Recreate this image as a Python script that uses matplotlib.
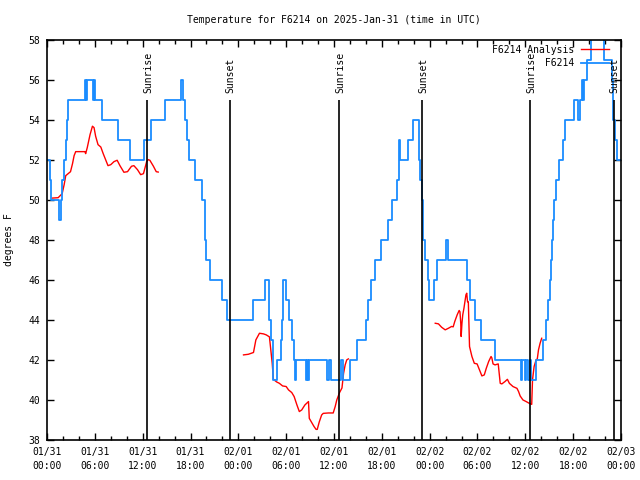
import numpy as np
import matplotlib.pyplot as plt
from matplotlib.ticker import MultipleLocator

plt.rcParams['font.family'] = 'DejaVu Sans Mono'
plt.rcParams['font.size'] = 7

# hours since 2025-01-31 00:00 UTC
obs_t = [0.0, 0.4, 0.55, 1.45, 1.75, 1.9, 2.15, 2.35, 2.5, 2.65,
         4.75, 4.85, 5.0, 5.8, 5.9, 6.0, 6.95, 8.9, 10.4, 12.15,
         13.05, 14.8, 16.8, 17.0, 17.3, 17.5, 17.85, 18.55, 19.4, 19.8,
         19.95, 20.5, 22.0, 22.6, 25.9, 27.35, 27.9, 28.1, 28.3, 28.4,
         28.8, 29.3, 29.45, 29.6, 29.95, 30.4, 30.7, 31.0, 31.1, 31.25,
         32.45, 32.6, 32.7, 32.9, 35.15, 35.4, 35.65, 36.85, 37.1, 37.95,
         38.85, 40.0, 40.3, 40.65, 41.2, 41.85, 42.8, 43.3, 43.9, 44.1,
         44.2, 44.3, 45.3, 45.95, 46.6, 46.8, 47.0, 47.15, 47.45, 47.75,
         47.95, 48.6, 48.9, 50.05, 50.35, 52.65, 53.1, 53.7, 54.4, 56.2,
         59.45, 59.6, 59.9, 60.1, 60.35, 60.6, 60.7, 61.35, 62.2, 62.6,
         62.9, 63.1, 63.25, 63.4, 63.5, 63.65, 63.8, 64.25, 64.7, 65.0,
         66.1, 66.6, 66.9, 67.1, 67.25, 67.4, 67.7, 68.25, 69.9, 70.85,
         70.95, 71.25, 71.45, 72.0]
obs_f = [52, 51, 50, 49, 50, 51, 52, 53, 54, 55,
         56, 55, 56, 55, 56, 55, 54, 53, 52, 53,
         54, 55, 56, 55, 54, 53, 52, 51, 50, 48,
         47, 46, 45, 44, 45, 46, 44, 43, 42, 41,
         42, 43, 44, 46, 45, 44, 43, 42, 41, 42,
         41, 42, 41, 42, 41, 42, 41, 42, 41, 42,
         43, 44, 45, 46, 47, 48, 49, 50, 51, 52,
         53, 52, 53, 54, 52, 51, 50, 48, 47, 46,
         45, 46, 47, 48, 47, 46, 45, 44, 43, 42,
         41, 42, 41, 42, 41, 42, 41, 42, 43, 44,
         45, 46, 47, 48, 49, 50, 51, 52, 53, 54,
         55, 54, 55, 56, 55, 56, 57, 59, 57, 56,
         54, 53, 52, 52]

ana_t = [0.65, 1.4, 1.9, 2.15, 2.35, 2.65, 2.95, 3.2, 3.4, 3.6,
         4.75, 4.85, 5.05, 5.4, 5.7, 5.9, 6.1, 6.4, 6.75, 7.05,
         7.35, 7.65, 8.0, 8.4, 8.8, 9.15, 9.65, 10.1, 10.6, 10.9,
         11.35, 11.75, 12.1, 12.5, 12.7, 12.9, 13.35, 13.7, 13.95, np.nan,
         24.65, 25.25, 25.9, 26.2, 26.65, 27.15, 27.5, 27.9, 28.05, 28.25,
         28.4, 28.8, 29.15, 29.55, 30.0, 30.3, 30.7, 31.0, 31.35, 31.65,
         31.95, 32.35, 32.8, 32.9, 33.2, 33.5, 33.75, 33.9, 34.15, 34.45,
         34.65, 35.3, 35.9, 36.15, 36.35, 36.7, 37.0, 37.2, 37.4, 37.6,
         37.8, np.nan,
         48.7, 49.1, 49.5, 49.95, 50.35, 50.75, 50.95, 51.15, 51.45, 51.7,
         51.8, 51.9, 51.95, 52.05, 52.15, 52.3, 52.45, 52.55, 52.65, 52.75,
         52.85, 53.0, 53.15, 53.3, 53.6, 53.95, 54.25, 54.55, 54.85, 55.1,
         55.4, 55.7, 55.8, 55.95, 56.2, 56.6, 56.85, 57.05, 57.45, 57.75,
         58.0, 58.45, 58.95, 59.15, 59.35, 59.7, 60.1, 60.5, 60.8, 60.9,
         61.1, 61.35, 61.5, 61.65, 61.85, 62.05]
ana_f = [50.08, 50.1, 50.3, 50.75, 51.2, 51.3, 51.4, 51.8, 52.2, 52.4,
         52.4, 52.3, 52.6, 53.25, 53.67, 53.6, 53.17, 52.75, 52.63, 52.3,
         52.0, 51.7, 51.75, 51.9, 51.97, 51.7, 51.37, 51.4, 51.67, 51.7,
         51.5, 51.25, 51.3, 51.9, 52.0, 51.97, 51.67, 51.4, 51.38, np.nan,
         42.25, 42.28, 42.37, 43.0, 43.33, 43.3, 43.25, 43.15, 42.6, 41.83,
         41.03, 40.9, 40.83, 40.7, 40.67, 40.5, 40.37, 40.17, 39.75, 39.42,
         39.5, 39.75, 39.92, 39.08, 38.87, 38.67, 38.53, 38.53, 38.9, 39.25,
         39.33, 39.35, 39.35, 39.67, 40.0, 40.37, 40.6, 41.33, 41.75, 42.0,
         42.05, np.nan,
         43.83, 43.8, 43.63, 43.5, 43.58, 43.67, 43.65, 43.92, 44.25, 44.47,
         44.4, 43.83, 43.17, 43.83, 44.25, 44.58, 45.0, 45.25, 45.33, 44.9,
         44.9, 42.67, 42.42, 42.17, 41.83, 41.8, 41.5, 41.2, 41.25, 41.58,
         41.92, 42.17, 42.1, 41.8, 41.75, 41.8, 40.83, 40.8, 40.92, 41.03,
         40.83, 40.67, 40.58, 40.42, 40.2, 40.0, 39.92, 39.83, 39.78, 41.0,
         41.67, 42.0, 42.05, 42.5, 42.83, 43.08]

sun_t = [12.59, 22.96, 36.68, 47.09, 60.6, 71.06]
sun_lbl = ['Sunrise', 'Sunset', 'Sunrise', 'Sunset', 'Sunrise', 'Sunset']

xticks = list(range(0, 73, 6))
xlabels = ['01/31\n00:00', '01/31\n06:00', '01/31\n12:00', '01/31\n18:00',
           '02/01\n00:00', '02/01\n06:00', '02/01\n12:00', '02/01\n18:00',
           '02/02\n00:00', '02/02\n06:00', '02/02\n12:00', '02/02\n18:00',
           '02/03\n00:00']

fig = plt.figure(figsize=(6.4, 4.8), dpi=100)
ax = fig.add_axes([47 / 640, 40 / 480, 574 / 640, 400.5 / 480])

ax.plot(ana_t, ana_f, color='#ff0000', lw=1.0, label='F6214 Analysis')
ax.plot(obs_t, obs_f, color='#1a8cff', lw=1.3, drawstyle='steps-post',
        label='         F6214')

ax.vlines(sun_t, 38, 55.0, color='black', lw=1.2)
for t, s in zip(sun_t, sun_lbl):
    ax.text(t + 0.1, 55.35, s, rotation=90, ha='center', va='bottom')

ax.set_xlim(0, 72)
ax.set_ylim(38, 58)
ax.set_xticks(xticks)
ax.set_xticklabels(xlabels, linespacing=1.5)
ax.xaxis.set_minor_locator(MultipleLocator(2))
ax.set_yticks(range(38, 59, 2))
ax.tick_params(which='both', direction='in', top=True, right=True, width=1)
ax.tick_params(which='major', length=5, pad=5)
ax.tick_params(which='minor', length=3)
for sp in ax.spines.values():
    sp.set_linewidth(1.2)

ax.set_ylabel('degrees F', labelpad=10)
ax.set_title('Temperature for F6214 on 2025-Jan-31 (time in UTC)',
             fontsize=7, pad=12)

ax.legend(loc='upper right', bbox_to_anchor=(1 - 12 / 574, 1 - 5 / 400),
          frameon=False, markerfirst=False, borderpad=0, borderaxespad=0,
          handlelength=2.9, handletextpad=0.7, labelspacing=0.35)

fig.savefig('out.png', dpi=100)
